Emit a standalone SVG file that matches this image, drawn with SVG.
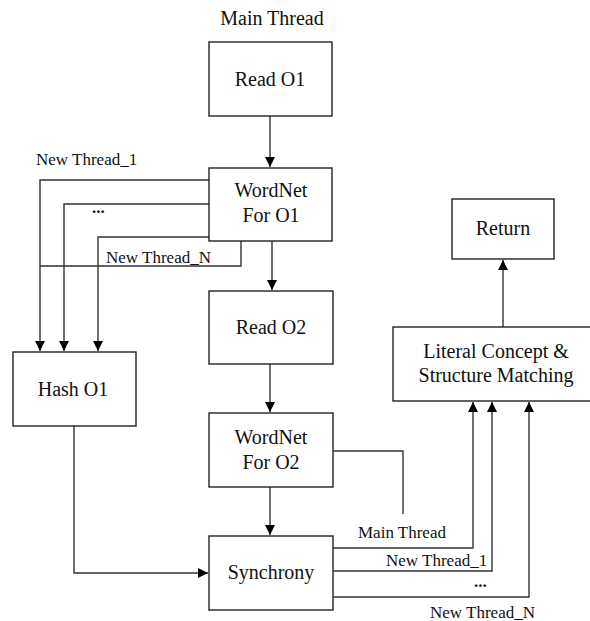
<svg xmlns="http://www.w3.org/2000/svg" width="590" height="621" viewBox="0 0 590 621">
<defs>
<style>
.box{fill:#fff;stroke:#222;stroke-width:1.4}
.lbl{font-family:"Liberation Serif","Times New Roman",serif;font-size:20px;fill:#111;text-anchor:middle}
.sm{font-family:"Liberation Serif","Times New Roman",serif;font-size:17px;fill:#111}
.ln{fill:none;stroke:#333;stroke-width:1.4}
</style>
<marker id="ah" markerUnits="userSpaceOnUse" markerWidth="12" markerHeight="12" refX="10" refY="5" orient="auto">
<path d="M0,0 L10,5 L0,10 Z" fill="#000"/>
</marker>
</defs>
<rect width="590" height="621" fill="#fff"/>
<text class="lbl" x="272" y="25">Main Thread</text>
<g id="connectors">
<path class="ln" d="M270,116 V167" marker-end="url(#ah)"/>
<path class="ln" d="M272,241 V290" marker-end="url(#ah)"/>
<path class="ln" d="M270,364 V412" marker-end="url(#ah)"/>
<path class="ln" d="M270,487 V535" marker-end="url(#ah)"/>
<path class="ln" d="M209,180 H40 V351" marker-end="url(#ah)"/>
<path class="ln" d="M209,204 H64 V351" marker-end="url(#ah)"/>
<path class="ln" d="M209,237 H98 V351" marker-end="url(#ah)"/>
<path class="ln" d="M241,241 V266 H40"/>
<path class="ln" d="M74,426 V573 H208" marker-end="url(#ah)"/>
<path class="ln" d="M333,451 H403 V514"/>
<path class="ln" d="M333,548 H473 V402" marker-end="url(#ah)"/>
<path class="ln" d="M333,571 H492 V402" marker-end="url(#ah)"/>
<path class="ln" d="M333,597 H529 V402" marker-end="url(#ah)"/>
<path class="ln" d="M503,327 V260" marker-end="url(#ah)"/>
<text class="sm" x="36" y="165">New Thread_1</text>
<text class="sm" x="92" y="213" font-weight="bold">...</text>
<text class="sm" x="106" y="263">New Thread_N</text>
<text class="sm" x="358" y="538">Main Thread</text>
<text class="sm" x="386" y="566">New Thread_1</text>
<text class="sm" x="474" y="587" font-weight="bold">...</text>
<text class="sm" x="430" y="618">New Thread_N</text>
</g>
<g id="read-o1"><rect class="box" x="209" y="42" width="123" height="74"/><text class="lbl" x="270" y="86">Read O1</text></g>
<g id="wordnet-o1"><rect class="box" x="209" y="168" width="123" height="73"/><text class="lbl" x="271" y="197">WordNet</text><text class="lbl" x="271" y="222">For O1</text></g>
<g id="read-o2"><rect class="box" x="209" y="291" width="124" height="73"/><text class="lbl" x="271" y="334">Read O2</text></g>
<g id="wordnet-o2"><rect class="box" x="209" y="413" width="124" height="74"/><text class="lbl" x="271" y="444">WordNet</text><text class="lbl" x="271" y="469">For O2</text></g>
<g id="synchrony"><rect class="box" x="209" y="536" width="124" height="74"/><text class="lbl" x="271" y="579">Synchrony</text></g>
<g id="hash-o1"><rect class="box" x="13" y="352" width="123" height="74"/><text class="lbl" x="73" y="396">Hash O1</text></g>
<g id="literal"><rect class="box" x="393" y="327" width="206" height="74"/><text class="lbl" x="496" y="358">Literal Concept &amp;</text><text class="lbl" x="496" y="382">Structure Matching</text></g>
<g id="return"><rect class="box" x="452" y="199" width="102" height="60"/><text class="lbl" x="503" y="235">Return</text></g>
</svg>
